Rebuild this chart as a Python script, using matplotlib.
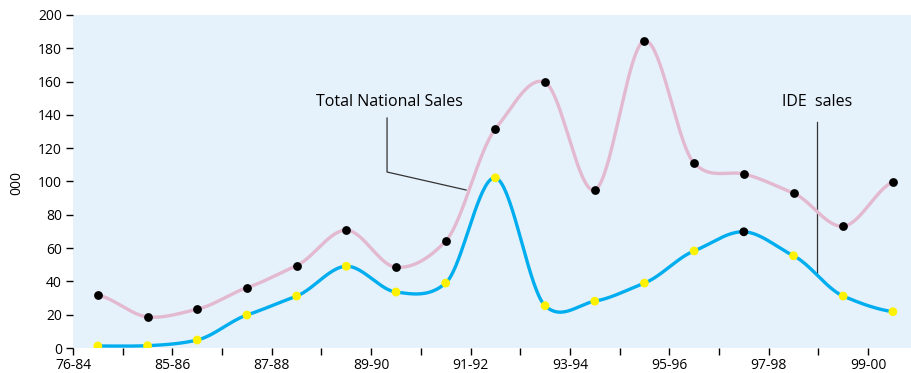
import numpy as np
import matplotlib
matplotlib.use("Agg")
import matplotlib.pyplot as plt

plt.rcParams['font.family'] = ['Open Sans', 'DejaVu Sans']

periods = ["76-84", "84-85", "85-86", "86-87", "87-88", "88-89", "89-90", "90-91",
           "91-92", "92-93", "93-94", "94-95", "95-96", "96-97", "97-98", "98-99", "99-00"]
total_sales = [31.8, 18.7, 23.3, 36.2, 49.5, 70.8, 48.5, 64.2, 131.5, 159.5,
               94.9, 184.5, 111.0, 104.5, 93.0, 73.1, 99.7]
ide_sales = [1.2, 1.4, 4.8, 19.8, 31.2, 49.1, 33.6, 39.0, 102.2, 25.4,
             28.1, 39.0, 58.3, 69.8, 55.4, 31.2, 21.8]
tick_labels = ["76-84", "85-86", "87-88", "89-90", "91-92", "93-94", "95-96", "97-98", "99-00"]

PINK = "#E3B9D0"
BLUE = "#00AEEF"
YELLOW = "#FFF200"
BG = "#E5F1FB"


def cardinal(x, y, k=0.38, n=40):
    """Cardinal spline through the points; k scales the tangents."""
    x = np.asarray(x, float)
    y = np.asarray(y, float)
    m = np.zeros_like(y)
    m[1:-1] = k * (y[2:] - y[:-2])
    m[0] = k * 2 * (y[1] - y[0]) * 0.6
    m[-1] = k * 2 * (y[-1] - y[-2]) * 0.6
    t = np.linspace(0, 1, n)
    h00 = 2 * t ** 3 - 3 * t ** 2 + 1
    h10 = t ** 3 - 2 * t ** 2 + t
    h01 = -2 * t ** 3 + 3 * t ** 2
    h11 = t ** 3 - t ** 2
    xs, ys = [], []
    for i in range(len(x) - 1):
        xs.append(x[i] + (x[i + 1] - x[i]) * t)
        ys.append(h00 * y[i] + h10 * m[i] + h01 * y[i + 1] + h11 * m[i + 1])
    return np.concatenate(xs), np.concatenate(ys)


fig = plt.figure(figsize=(9.11, 3.73), dpi=100)
ax = fig.add_axes([73 / 911, 25 / 373, 1 - 73 / 911, 333 / 373])
ax.set_facecolor(BG)

xpos = np.arange(len(periods)) + 0.5

sx, sy = cardinal(xpos, total_sales)
ax.plot(sx, sy, color=PINK, lw=2.4, solid_capstyle='round', zorder=2)
sx, sy = cardinal(xpos, ide_sales)
ax.plot(sx, sy, color=BLUE, lw=2.4, solid_capstyle='round', zorder=3)

ax.scatter(xpos, total_sales, s=40, color='black', zorder=4, linewidths=0)
ide_colors = [YELLOW] * len(ide_sales)
ide_colors[13] = 'black'
ax.scatter(xpos, ide_sales, s=40, color=ide_colors, zorder=5, linewidths=0)

ax.set_xlim(0, (911 - 73) / 49.69)
ax.set_ylim(0, 200)
ax.set_yticks(np.arange(0, 201, 20))
ax.set_xticks(np.arange(0, 17, 2))
ax.set_xticklabels(tick_labels)
ax.set_xticks(np.arange(1, 17, 2), minor=True)
for s in ax.spines.values():
    s.set_visible(False)
ax.tick_params(axis='both', which='both', length=5, width=1, color='black',
               labelsize=10, labelcolor='black')
ax.tick_params(axis='y', pad=3)
ax.tick_params(axis='x', pad=2)

ax.set_ylabel("000", fontsize=10)
ax.yaxis.set_label_coords(-0.058, 0.495)

# annotations
ax.text(4.89, 147.7, "Total National Sales", fontsize=11.5, ha='left', va='center')
ax.plot([6.32, 6.32, 7.91], [138.1, 105.7, 94.9], color='#333333', lw=0.9, zorder=1)
ax.text(14.27, 147.7, "IDE  sales", fontsize=11.5, ha='left', va='center')
ax.plot([14.97, 14.97], [135.7, 45.0], color='#333333', lw=0.9, zorder=1)

fig.savefig("out.png", dpi=100)
